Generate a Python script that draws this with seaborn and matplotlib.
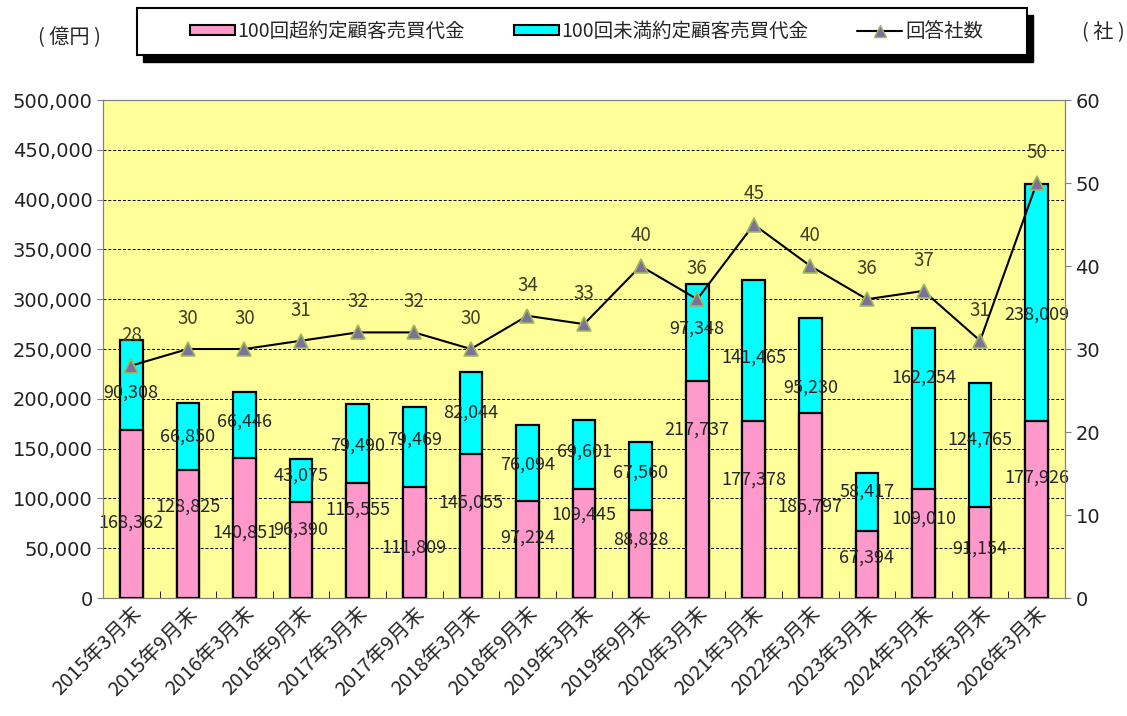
import numpy as np
import pandas as pd
import matplotlib
matplotlib.use("Agg")
import matplotlib.pyplot as plt
from matplotlib.patches import Rectangle
from matplotlib.ticker import FuncFormatter, MultipleLocator
import seaborn as sns

periods = ["2015年3月末", "2015年9月末", "2016年3月末", "2016年9月末", "2017年3月末",
           "2017年9月末", "2018年3月末", "2018年9月末", "2019年3月末", "2019年9月末",
           "2020年3月末", "2021年3月末", "2022年3月末", "2023年3月末", "2024年3月末",
           "2025年3月末", "2026年3月末"]
over100 = [168362, 128825, 140851, 96390, 115555, 111809, 145055, 97224, 109445,
           88828, 217737, 177378, 185797, 67394, 109010, 91154, 177926]
under100 = [90308, 66850, 66446, 43075, 79490, 79469, 82044, 76094, 69601,
            67560, 97348, 141465, 95230, 58417, 162254, 124765, 238009]
companies = [28, 30, 30, 31, 32, 32, 30, 34, 33, 40, 36, 45, 40, 36, 37, 31, 50]

# where the value labels sit in the original (億円 units)
over_label_y = [75300, 91400, 65300, 68300, 88400, 50200, 95400, 60200, 83300,
                58200, 168700, 118500, 91400, 40200, 79300, 49200, 120500]
under_label_y = [205800, 161600, 176700, 122500, 152600, 158600, 185700, 133500, 146600,
                 125500, 270100, 241000, 210800, 106400, 220900, 158600, 284100]

sns.set_style("white")
plt.rcParams['font.family'] = ['Noto Sans CJK JP', 'DejaVu Sans']

PINK = "#FF99CC"
CYAN = "#00FFFF"

df = pd.DataFrame({"period": periods, "over": over100, "under": under100,
                   "total": np.array(over100) + np.array(under100)})

fig = plt.figure(figsize=(11.27, 7.16), dpi=100)
ax = fig.add_axes([0.0914, 0.1648, 0.8536, 0.6955])
ax.set_facecolor("#FFFF99")

# stacked bars: total in cyan behind, pink part on top
sns.barplot(data=df, x="period", y="total", color=CYAN, width=0.4,
            edgecolor="black", linewidth=1.6, saturation=1, ax=ax, zorder=3)
sns.barplot(data=df, x="period", y="over", color=PINK, width=0.4,
            edgecolor="black", linewidth=1.6, saturation=1, ax=ax, zorder=3)

ax.set_ylim(0, 500000)
ax.set_xlim(-0.5, len(periods) - 0.5)
ax.yaxis.set_major_locator(MultipleLocator(50000))
ax.yaxis.set_major_formatter(FuncFormatter(lambda v, p: f"{int(v):,}"))
ax.grid(axis="y", color="black", linestyle=(0, (3, 2)), linewidth=0.7, zorder=1)
ax.set_axisbelow(True)
ax.set_xlabel("")
ax.set_ylabel("")
for s in ax.spines.values():
    s.set_color("#808080")
ax.tick_params(axis="y", labelsize=14, colors="#808080", labelcolor="#222222", length=4, left=True)
for t in ax.get_yticklabels():
    t.set_family(["DejaVu Sans"])
ax.tick_params(axis="x", labelsize=14.5, length=0, pad=4)
ax.set_xticks(np.arange(len(periods)) + 0.5, minor=True)
ax.tick_params(axis="x", which="minor", direction="in", length=5, bottom=True, color="black")
plt.setp(ax.get_xticklabels(), rotation=45, ha="right", rotation_mode="anchor")

for i in range(len(periods)):
    ax.text(i, over_label_y[i], f"{over100[i]:,}", ha="center", va="center", fontsize=13, zorder=5)
    ax.text(i, under_label_y[i], f"{under100[i]:,}", ha="center", va="center", fontsize=13, zorder=5)

ax2 = ax.twinx()
sns.lineplot(x=np.arange(len(periods)), y=companies, ax=ax2, color="black", linewidth=1.5,
             marker="^", markersize=10, markerfacecolor="#7F6F9F", markeredgecolor="#9BBB59",
             markeredgewidth=1.2, zorder=6)
ax2.set_ylim(0, 60)
ax2.yaxis.set_major_locator(MultipleLocator(10))
ax2.tick_params(axis="y", labelsize=14, colors="#808080", labelcolor="#222222", length=4, right=True)
for t in ax2.get_yticklabels():
    t.set_family(["DejaVu Sans"])
for s in ax2.spines.values():
    s.set_color("#808080")
for i, c in enumerate(companies):
    ax2.annotate(str(c), (i, c), xytext=(0, 22), textcoords="offset points",
                 ha="center", va="center", fontsize=13.5, color="#404020")

# legend box with hard black shadow, drawn on the figure
bx, by, bw, bh = 137 / 1127, 1 - 55 / 716, 890 / 1127, 47 / 716
fig.patches.append(Rectangle((bx + 6 / 1127, by - 7 / 716), bw, bh, transform=fig.transFigure,
                             facecolor="black", edgecolor="black", zorder=1))
fig.patches.append(Rectangle((bx, by), bw, bh, transform=fig.transFigure,
                             facecolor="white", edgecolor="black", linewidth=1.5, zorder=2))

handles = [
    Rectangle((0, 0), 1, 1, facecolor=PINK, edgecolor="black", linewidth=1.5),
    Rectangle((0, 0), 1, 1, facecolor=CYAN, edgecolor="black", linewidth=1.5),
    plt.Line2D([], [], color="black", marker="^", markerfacecolor="#7F6F9F",
               markeredgecolor="#9BBB59", markersize=8),
]
labels = ["100回超約定顧客売買代金", "100回未満約定顧客売買代金", "回答社数"]
leg = fig.legend(handles, labels, loc="center", bbox_to_anchor=(0.5204, 0.956), ncol=3,
                 fontsize=14, frameon=False, handlelength=2.3, handleheight=0.45,
                 handletextpad=0.15, columnspacing=2.5)
leg.set_zorder(3)

fig.text(0.062, 0.947, "( 億円 )", ha="center", va="center", fontsize=14.5)
fig.text(0.979, 0.954, "( 社 )", ha="center", va="center", fontsize=14.5)

fig.savefig("out.png", dpi=100)
